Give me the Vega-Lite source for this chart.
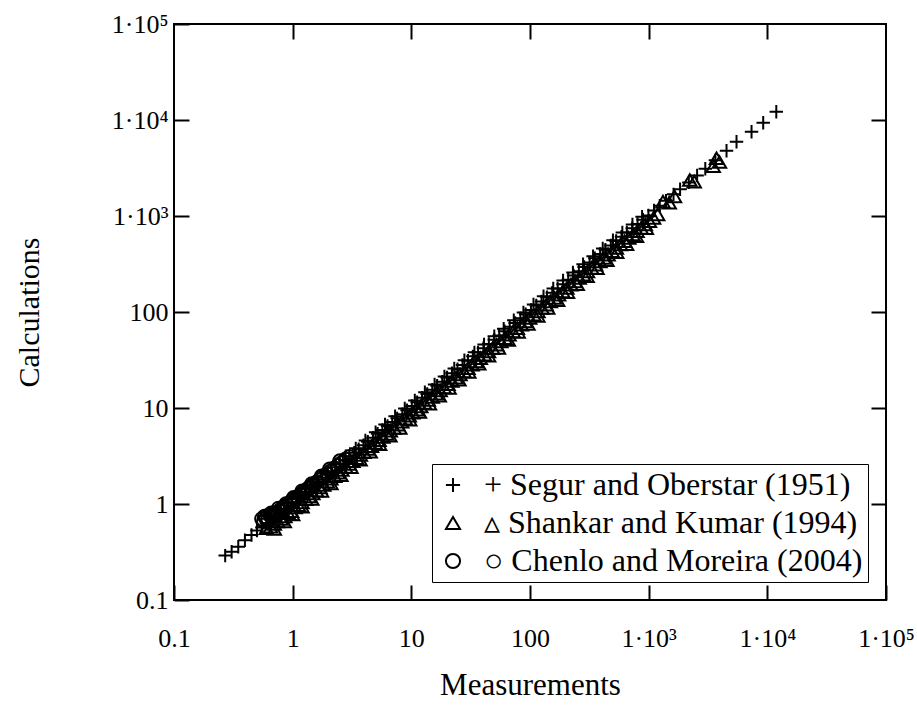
{
  "$schema": "https://vega.github.io/schema/vega-lite/v6.json",
  "width": 712,
  "height": 576,
  "autosize": "none",
  "padding": {"left": 174, "top": 24, "right": 31, "bottom": 115},
  "background": "white",
  "config": {
    "font": "Liberation Serif",
    "view": {"stroke": "black", "strokeWidth": 2},
    "axis": {"grid": false, "domain": false, "tickColor": "black", "tickWidth": 2, "tickSize": -15, "labelColor": "black", "labelFont": "Liberation Serif", "labelFontSize": 26, "titleFont": "Liberation Serif", "titleFontSize": 30, "titleFontWeight": "normal", "titleColor": "black"}
  },
  "data": {"values": [
    {"series":"Segur","meas":0.27,"calc":0.29},{"series":"Segur","meas":0.306,"calc":0.318},{"series":"Segur","meas":0.348,"calc":0.359},{"series":"Segur","meas":0.396,"calc":0.42},{"series":"Segur","meas":0.45,"calc":0.475},{"series":"Segur","meas":0.5,"calc":0.53},{"series":"Segur","meas":0.55,"calc":0.57},{"series":"Segur","meas":0.6,"calc":0.63},{"series":"Segur","meas":0.65,"calc":0.69},{"series":"Segur","meas":0.71,"calc":0.74},{"series":"Segur","meas":0.77,"calc":0.82},{"series":"Segur","meas":0.84,"calc":0.88},{"series":"Segur","meas":0.91,"calc":0.97},{"series":"Segur","meas":0.99,"calc":1.04},{"series":"Segur","meas":1.07,"calc":1.13},{"series":"Segur","meas":1.17,"calc":1.22},{"series":"Segur","meas":1.27,"calc":1.34},{"series":"Segur","meas":1.38,"calc":1.45},{"series":"Segur","meas":1.5,"calc":1.58},{"series":"Segur","meas":1.64,"calc":1.71},{"series":"Segur","meas":1.78,"calc":1.88},{"series":"Segur","meas":1.94,"calc":2.03},{"series":"Segur","meas":2.12,"calc":2.2},{"series":"Segur","meas":2.3,"calc":2.42},{"series":"Segur","meas":2.5,"calc":2.62},{"series":"Segur","meas":2.75,"calc":2.85},{"series":"Segur","meas":3.0,"calc":3.12},{"series":"Segur","meas":3.3,"calc":3.42},{"series":"Segur","meas":3.6,"calc":3.72},{"series":"Segur","meas":3.95,"calc":4.1},{"series":"Segur","meas":4.3,"calc":4.45},{"series":"Segur","meas":4.75,"calc":4.9},{"series":"Segur","meas":5.2,"calc":5.4},{"series":"Segur","meas":5.7,"calc":5.9},{"series":"Segur","meas":6.3,"calc":6.5},{"series":"Segur","meas":6.9,"calc":7.15},{"series":"Segur","meas":7.6,"calc":7.8},{"series":"Segur","meas":8.4,"calc":8.6},{"series":"Segur","meas":9.2,"calc":9.5},{"series":"Segur","meas":10.1,"calc":10.5},{"series":"Segur","meas":11.2,"calc":11.5},{"series":"Segur","meas":12.3,"calc":12.8},{"series":"Segur","meas":13.6,"calc":14.0},{"series":"Segur","meas":15,"calc":15.5},{"series":"Segur","meas":16.5,"calc":17.1},{"series":"Segur","meas":18.2,"calc":18.8},{"series":"Segur","meas":20,"calc":20.8},{"series":"Segur","meas":22,"calc":23},{"series":"Segur","meas":24.5,"calc":25.3},{"series":"Segur","meas":27,"calc":28},{"series":"Segur","meas":30,"calc":31},{"series":"Segur","meas":33,"calc":34.5},{"series":"Segur","meas":36.5,"calc":38},{"series":"Segur","meas":40.5,"calc":42},{"series":"Segur","meas":45,"calc":46.5},{"series":"Segur","meas":50,"calc":51.5},{"series":"Segur","meas":55,"calc":57},{"series":"Segur","meas":61,"calc":63},{"series":"Segur","meas":67.5,"calc":70},{"series":"Segur","meas":75,"calc":77},{"series":"Segur","meas":83,"calc":86},{"series":"Segur","meas":92,"calc":95},{"series":"Segur","meas":102,"calc":105},{"series":"Segur","meas":113,"calc":117},{"series":"Segur","meas":125,"calc":129},{"series":"Segur","meas":139,"calc":143},{"series":"Segur","meas":154,"calc":159},{"series":"Segur","meas":171,"calc":176},{"series":"Segur","meas":190,"calc":195},{"series":"Segur","meas":210,"calc":217},{"series":"Segur","meas":233,"calc":240},{"series":"Segur","meas":258,"calc":266},{"series":"Segur","meas":286,"calc":295},{"series":"Segur","meas":318,"calc":327},{"series":"Segur","meas":352,"calc":363},{"series":"Segur","meas":390,"calc":402},{"series":"Segur","meas":432,"calc":446},{"series":"Segur","meas":480,"calc":494},{"series":"Segur","meas":532,"calc":548},{"series":"Segur","meas":590,"calc":607},{"series":"Segur","meas":655,"calc":672},{"series":"Segur","meas":727,"calc":745},{"series":"Segur","meas":806,"calc":825},{"series":"Segur","meas":895,"calc":915},{"series":"Segur","meas":995,"calc":1015},{"series":"Segur","meas":1110,"calc":1140},{"series":"Segur","meas":1240,"calc":1280},{"series":"Segur","meas":1400,"calc":1440},{"series":"Segur","meas":1620,"calc":1680},{"series":"Segur","meas":1840,"calc":1900},{"series":"Segur","meas":2180,"calc":2240},{"series":"Segur","meas":2560,"calc":2640},{"series":"Segur","meas":3000,"calc":3100},{"series":"Segur","meas":3650,"calc":3800},{"series":"Segur","meas":4530,"calc":4790},{"series":"Segur","meas":5500,"calc":5940},{"series":"Segur","meas":7360,"calc":7550},{"series":"Segur","meas":9230,"calc":9380},{"series":"Segur","meas":11900,"calc":12200},
    {"series":"Segur","meas":0.62,"calc":0.7},{"series":"Segur","meas":0.75,"calc":0.85},{"series":"Segur","meas":0.9,"calc":1.02},{"series":"Segur","meas":1.1,"calc":1.25},{"series":"Segur","meas":1.3,"calc":1.48},{"series":"Segur","meas":1.6,"calc":1.8},{"series":"Segur","meas":1.9,"calc":2.15},{"series":"Segur","meas":2.3,"calc":2.6},{"series":"Segur","meas":2.8,"calc":3.15},{"series":"Segur","meas":3.4,"calc":3.8},{"series":"Segur","meas":4.1,"calc":4.6},{"series":"Segur","meas":5.0,"calc":5.6},{"series":"Segur","meas":6.0,"calc":6.75},{"series":"Segur","meas":7.3,"calc":8.2},{"series":"Segur","meas":8.8,"calc":9.9},{"series":"Segur","meas":10.7,"calc":12},{"series":"Segur","meas":13,"calc":14.6},{"series":"Segur","meas":15.7,"calc":17.6},{"series":"Segur","meas":19,"calc":21.3},{"series":"Segur","meas":23,"calc":25.8},{"series":"Segur","meas":28,"calc":31.4},{"series":"Segur","meas":34,"calc":38},{"series":"Segur","meas":41,"calc":46},{"series":"Segur","meas":50,"calc":56},{"series":"Segur","meas":60,"calc":67},{"series":"Segur","meas":73,"calc":82},{"series":"Segur","meas":88,"calc":99},{"series":"Segur","meas":107,"calc":120},{"series":"Segur","meas":130,"calc":146},{"series":"Segur","meas":157,"calc":176},{"series":"Segur","meas":190,"calc":213},{"series":"Segur","meas":230,"calc":258},{"series":"Segur","meas":280,"calc":314},{"series":"Segur","meas":340,"calc":381},{"series":"Segur","meas":410,"calc":460},{"series":"Segur","meas":500,"calc":560},{"series":"Segur","meas":600,"calc":672},{"series":"Segur","meas":730,"calc":818},{"series":"Segur","meas":880,"calc":985},
    {"series":"Shankar","meas":0.6,"calc":0.56},{"series":"Shankar","meas":0.65,"calc":0.58},{"series":"Shankar","meas":0.7,"calc":0.62},{"series":"Shankar","meas":0.75,"calc":0.66},{"series":"Shankar","meas":0.8,"calc":0.7},{"series":"Shankar","meas":0.86,"calc":0.74},{"series":"Shankar","meas":0.92,"calc":0.8},{"series":"Shankar","meas":0.98,"calc":0.84},{"series":"Shankar","meas":1.05,"calc":0.92},{"series":"Shankar","meas":1.12,"calc":0.97},{"series":"Shankar","meas":1.2,"calc":1.04},{"series":"Shankar","meas":1.29,"calc":1.12},{"series":"Shankar","meas":1.38,"calc":1.2},{"series":"Shankar","meas":1.48,"calc":1.29},{"series":"Shankar","meas":1.59,"calc":1.38},{"series":"Shankar","meas":1.7,"calc":1.49},{"series":"Shankar","meas":1.83,"calc":1.58},{"series":"Shankar","meas":1.96,"calc":1.71},{"series":"Shankar","meas":2.1,"calc":1.83},{"series":"Shankar","meas":2.26,"calc":1.95},{"series":"Shankar","meas":2.42,"calc":2.12},{"series":"Shankar","meas":2.6,"calc":2.26},{"series":"Shankar","meas":2.8,"calc":2.43},{"series":"Shankar","meas":3.0,"calc":2.62},{"series":"Shankar","meas":3.22,"calc":2.8},{"series":"Shankar","meas":3.46,"calc":3.0},{"series":"Shankar","meas":3.72,"calc":3.24},{"series":"Shankar","meas":4.0,"calc":3.46},{"series":"Shankar","meas":4.3,"calc":3.75},{"series":"Shankar","meas":4.62,"calc":4.0},{"series":"Shankar","meas":4.97,"calc":4.33},{"series":"Shankar","meas":5.35,"calc":4.62},{"series":"Shankar","meas":5.75,"calc":5.0},{"series":"Shankar","meas":6.2,"calc":5.38},{"series":"Shankar","meas":6.65,"calc":5.8},{"series":"Shankar","meas":7.15,"calc":6.2},{"series":"Shankar","meas":7.7,"calc":6.7},{"series":"Shankar","meas":8.3,"calc":7.2},{"series":"Shankar","meas":8.9,"calc":7.75},{"series":"Shankar","meas":9.6,"calc":8.3},{"series":"Shankar","meas":10.3,"calc":8.95},{"series":"Shankar","meas":11.1,"calc":9.6},{"series":"Shankar","meas":12,"calc":10.4},{"series":"Shankar","meas":12.9,"calc":11.3},{"series":"Shankar","meas":13.9,"calc":12.1},{"series":"Shankar","meas":15,"calc":13},{"series":"Shankar","meas":16.2,"calc":14.1},{"series":"Shankar","meas":17.5,"calc":15.2},{"series":"Shankar","meas":18.9,"calc":16.4},{"series":"Shankar","meas":20.4,"calc":17.7},{"series":"Shankar","meas":22,"calc":19.1},{"series":"Shankar","meas":23.8,"calc":20.7},{"series":"Shankar","meas":25.7,"calc":22.4},{"series":"Shankar","meas":27.8,"calc":24.1},{"series":"Shankar","meas":30,"calc":26},{"series":"Shankar","meas":32.5,"calc":28.3},{"series":"Shankar","meas":35.2,"calc":30.6},{"series":"Shankar","meas":38.1,"calc":33.1},{"series":"Shankar","meas":41.3,"calc":35.9},{"series":"Shankar","meas":44.7,"calc":38.9},{"series":"Shankar","meas":48.4,"calc":42.1},{"series":"Shankar","meas":52.4,"calc":45.6},{"series":"Shankar","meas":56.8,"calc":49.4},{"series":"Shankar","meas":61.5,"calc":53.5},{"series":"Shankar","meas":66.6,"calc":58},{"series":"Shankar","meas":72.2,"calc":62.8},{"series":"Shankar","meas":78.2,"calc":68},{"series":"Shankar","meas":84.7,"calc":73.7},{"series":"Shankar","meas":91.8,"calc":79.8},{"series":"Shankar","meas":99.4,"calc":86.5},{"series":"Shankar","meas":107.7,"calc":93.7},{"series":"Shankar","meas":116.7,"calc":101.5},{"series":"Shankar","meas":126.4,"calc":110},{"series":"Shankar","meas":137,"calc":119},{"series":"Shankar","meas":148.4,"calc":129},{"series":"Shankar","meas":160.8,"calc":140},{"series":"Shankar","meas":174.2,"calc":151.5},{"series":"Shankar","meas":188.7,"calc":164},{"series":"Shankar","meas":204.4,"calc":177.8},{"series":"Shankar","meas":221.5,"calc":192.6},{"series":"Shankar","meas":240,"calc":208.7},{"series":"Shankar","meas":260,"calc":226},{"series":"Shankar","meas":282,"calc":245},{"series":"Shankar","meas":305,"calc":265},{"series":"Shankar","meas":331,"calc":288},{"series":"Shankar","meas":358,"calc":311},{"series":"Shankar","meas":388,"calc":337},{"series":"Shankar","meas":420,"calc":365},{"series":"Shankar","meas":455,"calc":396},{"series":"Shankar","meas":493,"calc":429},{"series":"Shankar","meas":534,"calc":464},{"series":"Shankar","meas":580,"calc":505},{"series":"Shankar","meas":628,"calc":546},{"series":"Shankar","meas":680,"calc":592},{"series":"Shankar","meas":737,"calc":641},{"series":"Shankar","meas":798,"calc":694},{"series":"Shankar","meas":865,"calc":752},{"series":"Shankar","meas":937,"calc":815},{"series":"Shankar","meas":1015,"calc":883},{"series":"Shankar","meas":1100,"calc":957},{"series":"Shankar","meas":1190,"calc":1040},{"series":"Shankar","meas":1320,"calc":1410},{"series":"Shankar","meas":1490,"calc":1380},{"series":"Shankar","meas":1650,"calc":1600},{"series":"Shankar","meas":2220,"calc":2370},{"series":"Shankar","meas":2420,"calc":2280},{"series":"Shankar","meas":3500,"calc":3300},{"series":"Shankar","meas":3730,"calc":4000},{"series":"Shankar","meas":3950,"calc":3650},
    {"series":"Shankar","meas":0.7,"calc":0.55},{"series":"Shankar","meas":0.85,"calc":0.66},{"series":"Shankar","meas":1.0,"calc":0.78},{"series":"Shankar","meas":1.2,"calc":0.94},{"series":"Shankar","meas":1.45,"calc":1.13},{"series":"Shankar","meas":1.75,"calc":1.37},{"series":"Shankar","meas":2.1,"calc":1.64},{"series":"Shankar","meas":2.55,"calc":1.99},{"series":"Shankar","meas":3.1,"calc":2.42},{"series":"Shankar","meas":3.7,"calc":2.9},{"series":"Shankar","meas":4.5,"calc":3.5},{"series":"Shankar","meas":5.4,"calc":4.2},{"series":"Shankar","meas":6.6,"calc":5.15},{"series":"Shankar","meas":8.0,"calc":6.2},{"series":"Shankar","meas":9.7,"calc":7.55},{"series":"Shankar","meas":11.7,"calc":9.1},{"series":"Shankar","meas":14.2,"calc":11.1},{"series":"Shankar","meas":17.2,"calc":13.4},{"series":"Shankar","meas":20.8,"calc":16.2},{"series":"Shankar","meas":25.2,"calc":19.7},{"series":"Shankar","meas":30.5,"calc":23.8},{"series":"Shankar","meas":37,"calc":28.9},{"series":"Shankar","meas":44.8,"calc":35},{"series":"Shankar","meas":54.2,"calc":42.3},{"series":"Shankar","meas":65.6,"calc":51.2},{"series":"Shankar","meas":79.5,"calc":62},{"series":"Shankar","meas":96.2,"calc":75},{"series":"Shankar","meas":116.5,"calc":90.9},{"series":"Shankar","meas":141,"calc":110},{"series":"Shankar","meas":171,"calc":133},{"series":"Shankar","meas":207,"calc":161},{"series":"Shankar","meas":250,"calc":195},{"series":"Shankar","meas":303,"calc":236},{"series":"Shankar","meas":367,"calc":286},{"series":"Shankar","meas":445,"calc":347},{"series":"Shankar","meas":538,"calc":420},{"series":"Shankar","meas":652,"calc":509},{"series":"Shankar","meas":790,"calc":616},{"series":"Shankar","meas":956,"calc":746},
    {"series":"Chenlo","meas":0.55,"calc":0.7},{"series":"Chenlo","meas":0.57,"calc":0.66},{"series":"Chenlo","meas":0.6,"calc":0.72},{"series":"Chenlo","meas":0.62,"calc":0.69},{"series":"Chenlo","meas":0.65,"calc":0.76},{"series":"Chenlo","meas":0.68,"calc":0.74},{"series":"Chenlo","meas":0.71,"calc":0.81},{"series":"Chenlo","meas":0.74,"calc":0.79},{"series":"Chenlo","meas":0.78,"calc":0.86},{"series":"Chenlo","meas":0.82,"calc":0.9},{"series":"Chenlo","meas":0.86,"calc":0.93},{"series":"Chenlo","meas":0.9,"calc":0.98},{"series":"Chenlo","meas":0.95,"calc":1.04},{"series":"Chenlo","meas":1.0,"calc":1.08},{"series":"Chenlo","meas":1.05,"calc":1.14},{"series":"Chenlo","meas":1.1,"calc":1.17},{"series":"Chenlo","meas":1.16,"calc":1.25},{"series":"Chenlo","meas":1.22,"calc":1.3},{"series":"Chenlo","meas":1.28,"calc":1.37},{"series":"Chenlo","meas":1.35,"calc":1.45},{"series":"Chenlo","meas":1.42,"calc":1.5},{"series":"Chenlo","meas":1.5,"calc":1.6},{"series":"Chenlo","meas":1.6,"calc":1.7},{"series":"Chenlo","meas":1.7,"calc":1.8},{"series":"Chenlo","meas":1.82,"calc":1.93},{"series":"Chenlo","meas":1.95,"calc":2.05},{"series":"Chenlo","meas":2.1,"calc":2.2},{"series":"Chenlo","meas":2.25,"calc":2.36},{"series":"Chenlo","meas":2.4,"calc":2.5},{"series":"Chenlo","meas":2.6,"calc":2.7},{"series":"Chenlo","meas":2.8,"calc":2.92},{"series":"Chenlo","meas":3.0,"calc":3.1},
    {"series":"Chenlo","meas":0.58,"calc":0.74},{"series":"Chenlo","meas":0.66,"calc":0.8},{"series":"Chenlo","meas":0.76,"calc":0.9},{"series":"Chenlo","meas":0.88,"calc":1.0},{"series":"Chenlo","meas":1.02,"calc":1.16},{"series":"Chenlo","meas":1.2,"calc":1.36},{"series":"Chenlo","meas":1.45,"calc":1.62},{"series":"Chenlo","meas":1.75,"calc":1.95},{"series":"Chenlo","meas":2.05,"calc":2.3},{"series":"Chenlo","meas":2.5,"calc":2.8}
  ]},
  "layer": [
    {
      "mark": {"type": "point", "filled": false, "color": "black", "strokeWidth": 2, "size": 180, "opacity": 1},
      "encoding": {
        "x": {"field": "meas", "type": "quantitative", "scale": {"type": "log", "domain": [0.1, 100000]},
          "axis": {"orient": "bottom", "values": [0.1, 1, 10, 100, 1000, 10000, 100000], "labelPadding": 40, "labelFlush": false, "labelOverlap": false,
            "labelExpr": "datum.value == 1000 ? '1·10³' : datum.value == 10000 ? '1·10⁴' : datum.value == 100000 ? '1·10⁵' : datum.value < 1 ? '0.1' : format(datum.value, 'd')",
            "title": "Measurements", "titleY": 94, "titleBaseline": "alphabetic", "titleFontSize": 31}},
        "y": {"field": "calc", "type": "quantitative", "scale": {"type": "log", "domain": [0.1, 100000]},
          "axis": {"orient": "left", "values": [0.1, 1, 10, 100, 1000, 10000, 100000], "labelPadding": 21, "labelFlush": false, "labelOverlap": false,
            "labelExpr": "datum.value == 1000 ? '1·10³' : datum.value == 10000 ? '1·10⁴' : datum.value == 100000 ? '1·10⁵' : datum.value < 1 ? '0.1' : format(datum.value, 'd')",
            "title": "Calculations", "titleX": -136, "titleY": 288, "titleAngle": 270, "titleAlign": "center", "titleBaseline": "alphabetic"}},
        "shape": {"field": "series", "type": "nominal",
          "scale": {"domain": ["Segur", "Shankar", "Chenlo"], "range": ["M-1,0H1M0,-1V1", "triangle-up", "circle"]},
          "legend": {"title": null, "orient": "bottom-right", "offset": 18, "strokeColor": "black", "padding": 5, "labelFont": "Liberation Serif", "labelFontSize": 32, "labelColor": "black", "symbolSize": 200, "symbolStrokeWidth": 2, "symbolStrokeColor": "black", "labelOffset": 15, "rowPadding": 6, "labelLimit": 600,
            "labelExpr": "datum.value == 'Segur' ? '+ Segur and Oberstar (1951)' : datum.value == 'Shankar' ? '▵ Shankar and Kumar (1994)' : '○ Chenlo and Moreira (2004)'",
            "encode": {"legend": {"update": {"strokeWidth": {"value": 2}, "fill": {"value": "white"}}}}}}
      }
    },
    {
      "mark": {"type": "point", "opacity": 0},
      "encoding": {
        "x": {"field": "meas", "type": "quantitative", "scale": {"type": "log", "domain": [0.1, 100000]},
          "axis": {"orient": "top", "values": [1, 10, 100, 1000, 10000], "labels": false, "title": null}},
        "y": {"field": "calc", "type": "quantitative", "scale": {"type": "log", "domain": [0.1, 100000]},
          "axis": {"orient": "right", "values": [1, 10, 100, 1000, 10000], "labels": false, "title": null}}
      }
    }
  ],
  "resolve": {"axis": {"x": "independent", "y": "independent"}}
}
